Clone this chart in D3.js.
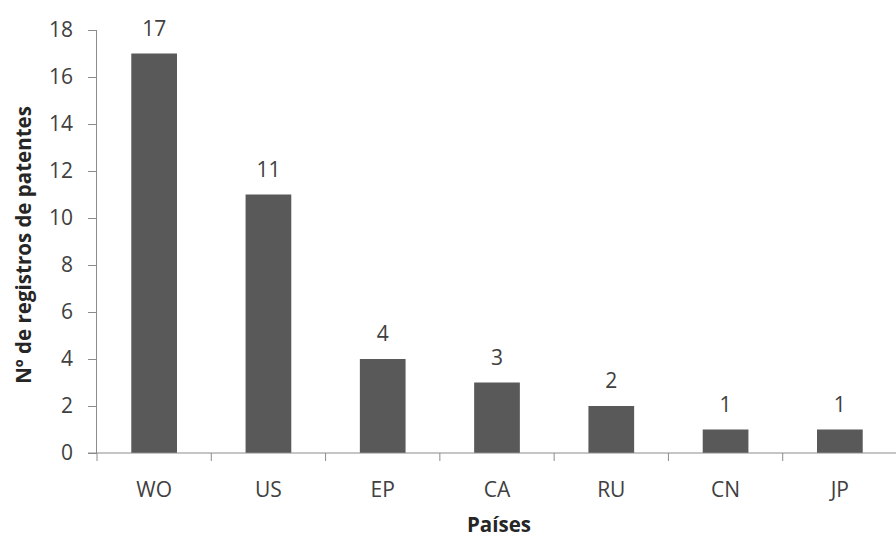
<!DOCTYPE html>
<html>
<head>
<meta charset="utf-8">
<script src="https://cdn.jsdelivr.net/npm/d3@7"></script>
<style>
  html, body { margin: 0; padding: 0; background: #fff; }
  svg { display: block; font-family: "Open Sans", "Lato", sans-serif; }
</style>
</head>
<body>
<svg id="chart" width="896" height="538"></svg>
<script>
// Patent registrations per country / office
const countries = ["WO", "US", "EP", "CA", "RU", "CN", "JP"];
const registros = [17, 11, 4, 3, 2, 1, 1];
const yTicks = [0, 2, 4, 6, 8, 10, 12, 14, 16, 18];

const svg = d3.select("#chart");
const plotLeft = 97, plotRight = 897, plotTop = 30, plotBottom = 453;

const x = d3.scaleBand().domain(countries).range([plotLeft, plotRight]).paddingInner(0.6).paddingOuter(0.3);
const xEdge = d3.scaleBand().domain(countries).range([plotLeft, plotRight]);
const y = d3.scaleLinear().domain([0, 18]).range([plotBottom, plotTop]);

const axisColor = "#8c8c8c";
const textColor = "#404040";
const fontSize = 21;

// Bars
svg.append("g").selectAll("rect")
  .data(countries)
  .join("rect")
  .attr("x", d => x(d))
  .attr("width", x.bandwidth())
  .attr("y", (d, i) => y(registros[i]))
  .attr("height", (d, i) => y(0) - y(registros[i]))
  .attr("fill", "#595959");

// Value labels
svg.append("g").selectAll("text")
  .data(countries)
  .join("text")
  .attr("x", d => x(d) + x.bandwidth() / 2)
  .attr("y", (d, i) => y(registros[i]) - 18)
  .attr("text-anchor", "middle")
  .attr("font-size", fontSize)
  .attr("fill", textColor)
  .text((d, i) => registros[i]);

// Y axis
const yAxis = svg.append("g")
  .attr("transform", `translate(${plotLeft},0)`)
  .call(d3.axisLeft(y).tickValues(yTicks).tickSize(9).tickPadding(15));
yAxis.select(".domain").attr("stroke", axisColor).attr("d", `M-0.5,${y(0)}V${y(18)}`);
yAxis.selectAll(".tick line").attr("stroke", axisColor);
yAxis.selectAll(".tick text").attr("font-size", fontSize).attr("fill", textColor)
  .attr("font-family", "'Open Sans', sans-serif");

// X axis with ticks at category boundaries
const xg = svg.append("g").attr("transform", `translate(0,${plotBottom})`);
xg.append("line").attr("x1", plotLeft - 9).attr("x2", plotRight).attr("y1", 0).attr("y2", 0).attr("stroke", axisColor);
xg.selectAll("line.b")
  .data(countries.concat(["_end"]))
  .join("line")
  .attr("class", "b")
  .attr("x1", (d, i) => plotLeft + i * xEdge.step())
  .attr("x2", (d, i) => plotLeft + i * xEdge.step())
  .attr("y1", 0).attr("y2", 8)
  .attr("stroke", axisColor);
xg.selectAll("text")
  .data(countries)
  .join("text")
  .attr("x", d => xEdge(d) + xEdge.bandwidth() / 2)
  .attr("y", 44)
  .attr("text-anchor", "middle")
  .attr("font-size", fontSize)
  .attr("fill", textColor)
  .text(d => d);

// Axis titles
svg.append("text")
  .attr("x", 499)
  .attr("y", 532)
  .attr("text-anchor", "middle")
  .attr("font-size", 20.5)
  .attr("font-weight", "bold")
  .attr("fill", "#262626")
  .text("Países");

svg.append("text")
  .attr("transform", `translate(31,245) rotate(-90)`)
  .attr("text-anchor", "middle")
  .attr("font-size", 20.5)
  .attr("font-weight", "bold")
  .attr("fill", "#262626")
  .text("Nº de registros de patentes");
</script>
</body>
</html>
